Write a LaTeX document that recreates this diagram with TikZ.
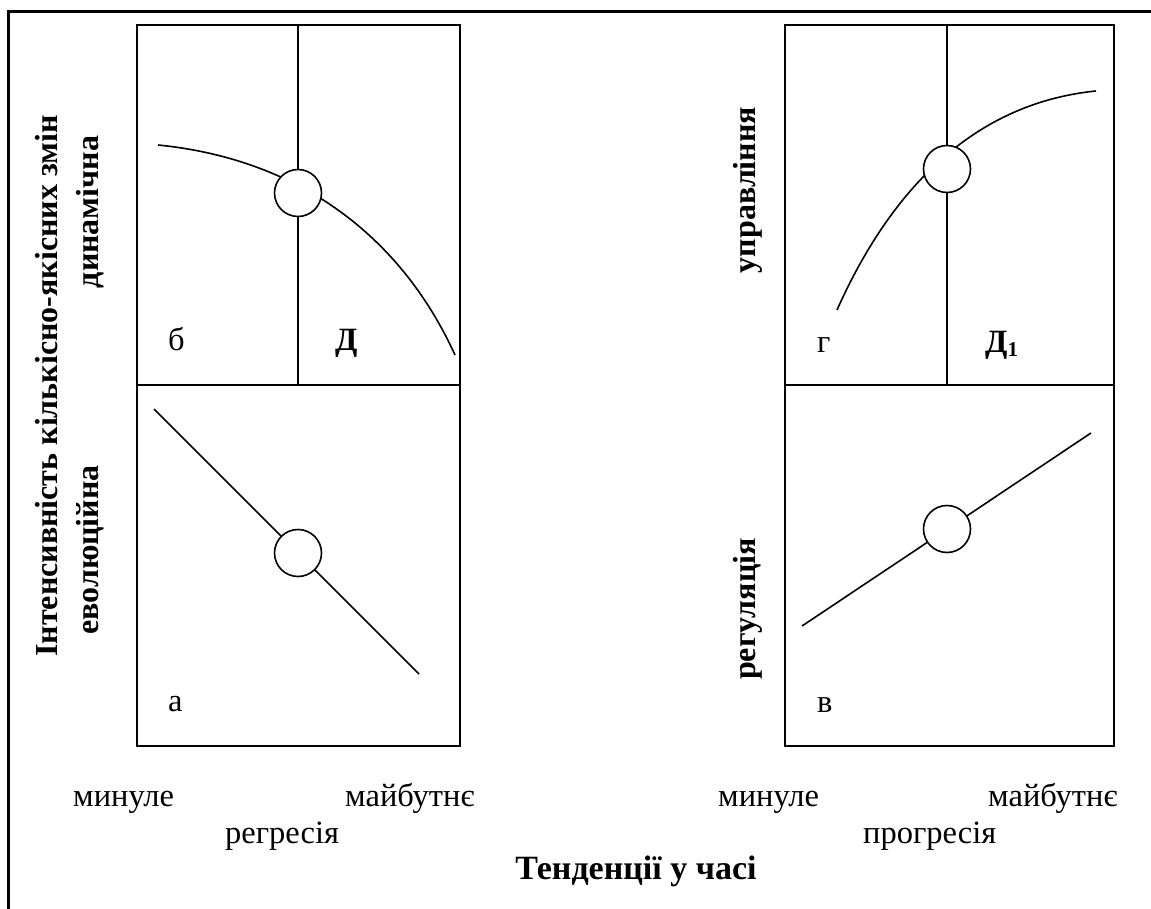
\documentclass[tikz,border=0pt]{standalone}
\usepackage{fontspec}
\setmainfont{Liberation Serif}
\begin{document}
\begin{tikzpicture}[x=1pt,y=-1pt,
  frame/.style={line width=2.2pt},
  box/.style={line width=2pt},
  curve/.style={line width=1.6pt},
  mark circle/.style={circle,draw,line width=1.6pt,fill=white,minimum size=47pt,inner sep=0pt},
  lbl/.style={font=\fontsize{32.5}{38}\selectfont,inner sep=0pt,anchor=base west},
  blbl/.style={font=\fontsize{32.5}{38}\selectfont\bfseries,inner sep=0pt,anchor=base west},
  vtxt/.style={font=\fontsize{32}{38}\selectfont\bfseries,inner sep=0pt,rotate=90,anchor=center}]
\useasboundingbox (0,0) rectangle (1151,909);
% outer frame (left and top)
\coordinate (fbl) at (8.5,909);
\coordinate (ftl) at (8.5,11.5);
\coordinate (ftr) at (1151,11.5);
\draw[frame] (fbl) -- (ftl) -- (ftr);
% left box
\draw[box] (137,25) rectangle (460,746);
\draw[box] (137,385) -- (460,385);
\draw[box] (298,25) -- (298,385);
% right box
\draw[box] (785,25) rectangle (1114,746);
\draw[box] (785,385) -- (1114,385);
\draw[box] (947,25) -- (947,385);
% curves and lines
\coordinate (b0) at (158,145); \coordinate (b1) at (455,355);
\draw[curve] (b0) .. controls (308,160) and (405,245) .. (b1);
\coordinate (a0) at (154,409); \coordinate (a1) at (419,674);
\draw[curve] (a0) -- (a1);
\coordinate (g0) at (837,310); \coordinate (g1) at (1096,91);
\draw[curve] (g0) .. controls (886,200) and (966,104) .. (g1);
\coordinate (v0) at (802,626); \coordinate (v1) at (1091,433);
\draw[curve] (v0) -- (v1);
% circles
\node[mark circle] (cb) at (298,193) {};
\node[mark circle] (ca) at (298,553) {};
\node[mark circle] (cg) at (947,169) {};
\node[mark circle] (cv) at (947,529) {};
% panel labels
\node[lbl] (lb) at (168,350) {б};
\node[blbl] (ld) at (335,350) {Д};
\node[lbl] (la) at (168,711) {а};
\node[lbl] (lg) at (817,352) {г};
\node[blbl] (ld1) at (985,352) {Д{\fontsize{21}{21}\selectfont\raisebox{-5pt}{1}}};
\node[lbl] (lv) at (817,712) {в};
% vertical texts
\node[vtxt] (title) at (47,386) {Інтенсивність кількісно-якісних змін};
\node[vtxt] (din) at (90,212) {динамічна};
\node[vtxt] (evo) at (90,550) {еволюційна};
\node[vtxt] (upr) at (748,190) {управління};
\node[vtxt] (reg) at (748,609) {регуляція};
% bottom texts
\node[lbl] (m1) at (73,806) {минуле};
\node[lbl] (f1) at (345,806) {майбутнє};
\node[lbl] (rg) at (225,843) {регресія};
\node[lbl] (m2) at (718,806) {минуле};
\node[lbl] (f2) at (988,806) {майбутнє};
\node[lbl] (pg) at (863,843) {прогресія};
\node[blbl,anchor=base,font=\fontsize{34}{40}\selectfont\bfseries] (tend) at (636,879) {Тенденції у часі};
\end{tikzpicture}
\end{document}
